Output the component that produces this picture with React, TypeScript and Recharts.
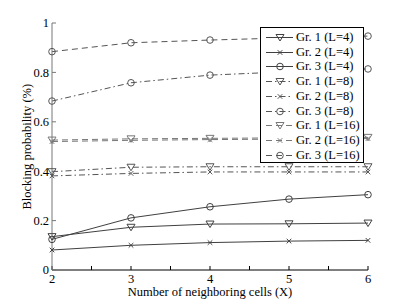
import { LineChart, Line, XAxis, YAxis } from 'recharts';

const xValues = [2, 3, 4, 5, 6];
const gr1L4 = [0.135, 0.173, 0.186, 0.187, 0.19];
const gr2L4 = [0.081, 0.1, 0.111, 0.117, 0.12];
const gr3L4 = [0.124, 0.211, 0.256, 0.287, 0.305];
const gr1L8 = [0.398, 0.416, 0.418, 0.418, 0.418];
const gr2L8 = [0.381, 0.391, 0.397, 0.397, 0.397];
const gr3L8 = [0.684, 0.758, 0.789, 0.803, 0.814];
const gr1L16 = [0.526, 0.531, 0.533, 0.535, 0.537];
const gr2L16 = [0.52, 0.525, 0.528, 0.53, 0.532];
const gr3L16 = [0.884, 0.92, 0.931, 0.94, 0.947];

const xTicks = [2, 2.5, 3, 3.5, 4, 4.5, 5, 5.5, 6];
const yTicks = [0, 0.2, 0.4, 0.6, 0.8, 1];

type Kind = 'tri' | 'x' | 'circle';

const SERIES: { key: string; name: string; values: number[]; kind: Kind; dash?: string; color: string }[] = [
    { key: 'g1l4', name: 'Gr. 1 (L=4)', values: gr1L4, kind: 'tri', color: '#404040' },
    { key: 'g2l4', name: 'Gr. 2 (L=4)', values: gr2L4, kind: 'x', color: '#404040' },
    { key: 'g3l4', name: 'Gr. 3 (L=4)', values: gr3L4, kind: 'circle', color: '#404040' },
    { key: 'g1l8', name: 'Gr. 1 (L=8)', values: gr1L8, kind: 'tri', dash: '6 3 1.5 3', color: '#555' },
    { key: 'g2l8', name: 'Gr. 2 (L=8)', values: gr2L8, kind: 'x', dash: '6 3 1.5 3', color: '#555' },
    { key: 'g3l8', name: 'Gr. 3 (L=8)', values: gr3L8, kind: 'circle', dash: '6 3 1.5 3', color: '#555' },
    { key: 'g1l16', name: 'Gr. 1 (L=16)', values: gr1L16, kind: 'tri', dash: '6 4', color: '#777' },
    { key: 'g2l16', name: 'Gr. 2 (L=16)', values: gr2L16, kind: 'x', dash: '6 4', color: '#777' },
    { key: 'g3l16', name: 'Gr. 3 (L=16)', values: gr3L16, kind: 'circle', dash: '6 4', color: '#555' },
];

const data = xValues.map((x, i) => {
    const row: any = { x };
    SERIES.forEach((s) => { row[s.key] = s.values[i]; });
    return row;
});

const FONT = '"Liberation Serif", "Times New Roman", serif';
const FS = 12.5;

function Marker({ cx, cy, kind, color }: { cx: number; cy: number; kind: Kind; color: string }) {
    if (kind === 'circle') {
        return <circle cx={cx} cy={cy} r={3.3} fill="none" stroke={color} strokeWidth={1} />;
    }
    if (kind === 'x') {
        const d = 2.3;
        return (
            <path
                d={`M${cx - d},${cy - d}L${cx + d},${cy + d}M${cx - d},${cy + d}L${cx + d},${cy - d}`}
                stroke={color}
                strokeWidth={1}
            />
        );
    }
    return (
        <path
            d={`M${cx - 4},${cy - 3}L${cx + 4},${cy - 3}L${cx},${cy + 3.5}Z`}
            fill="none"
            stroke={color}
            strokeWidth={1}
        />
    );
}

const yFmt = (v: number) => (v === 0 ? '0' : v === 1 ? '1' : v.toFixed(1));
const xFmt = (v: number) => (Number.isInteger(v) ? String(v) : '');

export default function App() {
    return (
        <div style={{ position: 'absolute', left: 0, top: 0, width: 407, height: 306, background: '#fff', fontFamily: FONT }}>
            <LineChart width={407} height={306} data={data} margin={{ top: 23, right: 39, bottom: 0, left: 0 }}>
                <XAxis
                    dataKey="x"
                    type="number"
                    domain={[2, 6]}
                    ticks={xTicks}
                    tickFormatter={xFmt}
                    height={36}
                    stroke="#000"
                    tickSize={-4}
                    tickMargin={8}
                    tick={{ fill: '#000', fontSize: FS, fontFamily: FONT }}
                    label={{ value: 'Number of neighboring cells (X)', position: 'insideBottom', offset: 10, fill: '#000', fontSize: FS, fontFamily: FONT }}
                />
                <XAxis
                    xAxisId="top"
                    dataKey="x"
                    type="number"
                    orientation="top"
                    domain={[2, 6]}
                    ticks={xTicks}
                    height={0}
                    stroke="#777"
                    tickSize={-4}
                    tick={false}
                />
                <YAxis
                    type="number"
                    domain={[0, 1]}
                    ticks={yTicks}
                    tickFormatter={yFmt}
                    width={52}
                    stroke="#777"
                    tickSize={-4}
                    tickMargin={7}
                    tick={{ fill: '#000', fontSize: FS, fontFamily: FONT }}
                    label={{ value: 'Blocking probability (%)', angle: -90, position: 'insideLeft', offset: 27, dy: 63, fill: '#000', fontSize: FS, fontFamily: FONT }}
                />
                <YAxis
                    yAxisId="right"
                    orientation="right"
                    type="number"
                    domain={[0, 1]}
                    ticks={yTicks}
                    width={0}
                    stroke="#777"
                    tickSize={-4}
                    tick={false}
                />
                {SERIES.map((s) => (
                    <Line
                        key={s.key}
                        dataKey={s.key}
                        name={s.name}
                        type="linear"
                        stroke={s.color}
                        strokeWidth={1}
                        strokeDasharray={s.dash}
                        isAnimationActive={false}
                        dot={(p: any) => <Marker key={`${s.key}-${p.index}`} cx={p.cx} cy={p.cy} kind={s.kind} color={s.color} />}
                        activeDot={false}
                    />
                ))}
            </LineChart>
            <div
                style={{
                    position: 'absolute',
                    left: 260,
                    top: 27,
                    width: 104,
                    height: 136,
                    border: '1px solid #000',
                    background: '#fff',
                    boxSizing: 'border-box',
                }}
            >
                {SERIES.map((s, i) => (
                    <div
                        key={s.key}
                        style={{ position: 'absolute', left: 0, top: 2 + i * 14.7, height: 15, display: 'flex', alignItems: 'center' }}
                    >
                        <svg width={35} height={15} style={{ display: 'block' }}>
                            <line x1={5} y1={7.5} x2={32} y2={7.5} stroke={s.color} strokeWidth={1} strokeDasharray={s.dash} />
                            <Marker cx={19} cy={7.5} kind={s.kind} color={s.color} />
                        </svg>
                        <span style={{ fontSize: FS, fontFamily: FONT, color: '#000', whiteSpace: 'nowrap', lineHeight: '15px' }}>{s.name}</span>
                    </div>
                ))}
            </div>
        </div>
    );
}
